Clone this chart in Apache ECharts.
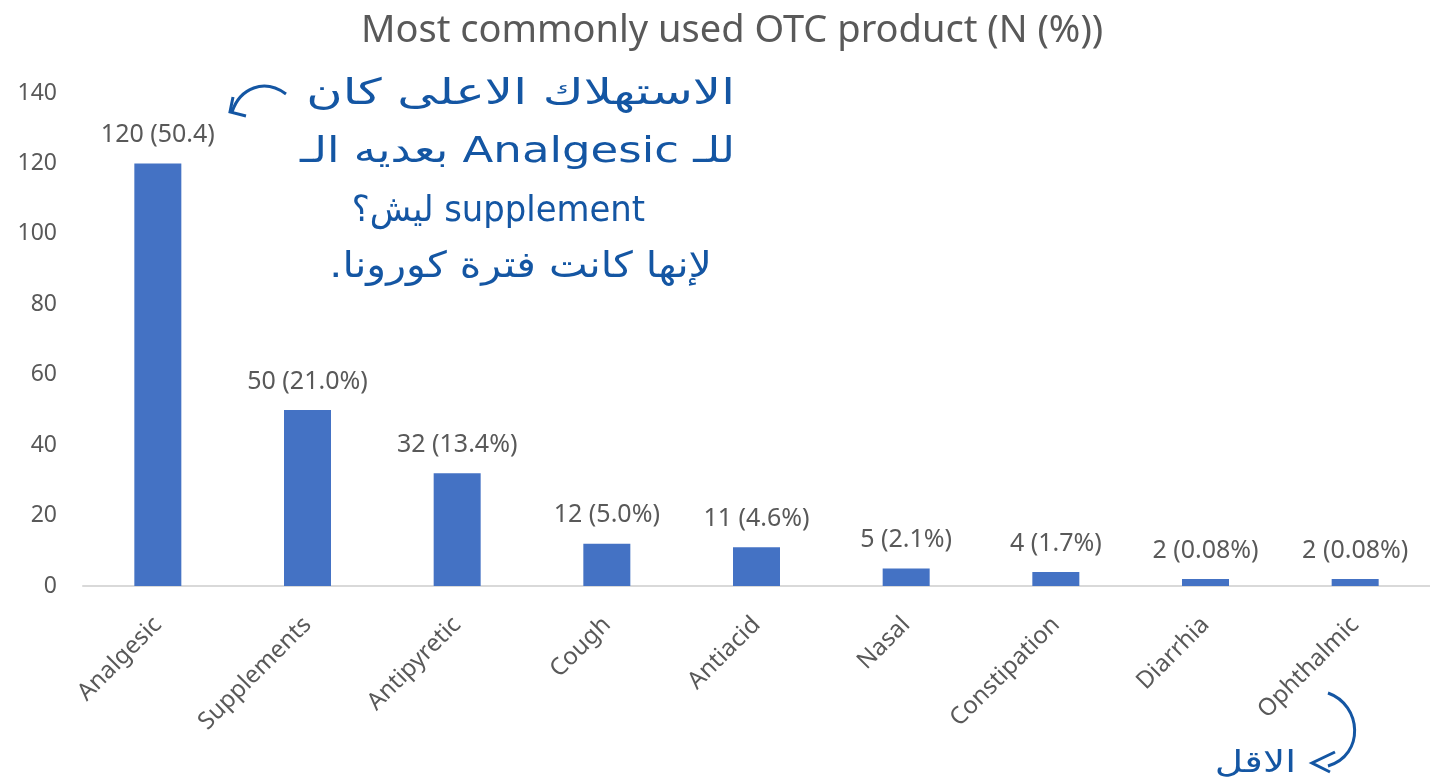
<!DOCTYPE html>
<html>
<head>
<meta charset="utf-8">
<script src="https://cdn.jsdelivr.net/npm/echarts@6/dist/echarts.min.js"></script>
<style>
  html, body { margin: 0; padding: 0; background: #fff; }
  #chart { width: 1430px; height: 782px; }
</style>
</head>
<body>
<div id="chart"></div>
<script>
  // data
  var categories = ['Analgesic', 'Supplements', 'Antipyretic', 'Cough', 'Antiacid', 'Nasal', 'Constipation', 'Diarrhia', 'Ophthalmic']
  var counts = [120, 50, 32, 12, 11, 5, 4, 2, 2]
  var percents = ['50.4', '21.0%', '13.4%', '5.0%', '4.6%', '2.1%', '1.7%', '0.08%', '0.08%']
  var yTicks = {min: 0, max: 140, interval: 20}

  // handwritten notes (RTL)
  var noteLines = [
    'الاستهلاك الاعلى كان',
    'للـ Analgesic بعديه الـ',
    'supplement ليش؟',
    'لإنها كانت فترة كورونا.'
  ]
  var lowNote = 'الاقل'

  var textColor = '#595959'
  var inkColor = '#1456a3'
  var font = 'Noto Sans'

  var chart = echarts.init(document.getElementById('chart'))

  var rtl = function (s) {
    return '\u202B' + s + '\u202C'
  }

  // right edge, middle y and horizontal stretch of each note line
  var noteX = [735, 735, 645, 712]
  var noteY = [95, 153, 212, 268]
  var noteScale = [1.38, 1.25, 0.94, 1.14]
  var notes = noteLines.map(function (line, i) {
    return {
      type: 'text',
      x: noteX[i],
      y: noteY[i],
      scaleX: noteScale[i],
      style: {
        text: rtl(line),
        fill: inkColor,
        font: '36px "DejaVu Sans"',
        align: 'right',
        verticalAlign: 'middle'
      }
    }
  })

  chart.setOption({
    title: {
      text: 'Most commonly used OTC product (N (%))',
      left: 356,
      top: 7,
      textStyle: {
        color: textColor,
        fontFamily: font,
        fontSize: 38,
        fontWeight: 'normal'
      }
    },
    grid: {
      left: 83,
      right: -3,
      top: 93,
      bottom: 196,
      containLabel: false
    },
    xAxis: {
      type: 'category',
      data: categories,
      axisLine: {lineStyle: {color: '#d9d9d9', width: 2}},
      axisTick: {show: false},
      axisLabel: {
        rotate: 45,
        margin: 35,
        color: textColor,
        fontFamily: font,
        fontSize: 24
      }
    },
    yAxis: {
      type: 'value',
      min: yTicks.min,
      max: yTicks.max,
      interval: yTicks.interval,
      splitLine: {show: false},
      axisLine: {show: false},
      axisTick: {show: false},
      axisLabel: {
        margin: 26,
        color: textColor,
        fontFamily: font,
        fontSize: 23
      }
    },
    series: [
      {
        type: 'bar',
        data: counts,
        barWidth: 47,
        itemStyle: {color: '#4472c4'},
        label: {
          show: true,
          position: 'top',
          distance: 16,
          color: textColor,
          fontFamily: font,
          fontSize: 25,
          formatter: function (p) {
            return p.value + ' (' + percents[p.dataIndex] + ')'
          }
        }
      }
    ],
    graphic: notes.concat([
      {
        type: 'bezierCurve',
        shape: {x1: 286, y1: 94, cpx1: 264, cpy1: 78, cpx2: 240, cpy2: 88, x2: 232, y2: 112},
        style: {stroke: inkColor, lineWidth: 3, fill: null}
      },
      {
        type: 'polyline',
        shape: {points: [[233, 97], [230, 112], [246, 116]]},
        style: {stroke: inkColor, lineWidth: 3, fill: null}
      },
      {
        type: 'bezierCurve',
        shape: {x1: 1328, y1: 693, cpx1: 1362, cpy1: 705, cpx2: 1365, cpy2: 755, x2: 1328, y2: 766},
        style: {stroke: inkColor, lineWidth: 3, fill: null}
      },
      {
        type: 'polyline',
        shape: {points: [[1335, 752], [1312, 763], [1330, 772]]},
        style: {stroke: inkColor, lineWidth: 3, fill: null}
      },
      {
        type: 'text',
        x: 1296,
        y: 764,
        scaleX: 1.3,
        style: {
          text: rtl(lowNote),
          fill: inkColor,
          font: '30px "DejaVu Sans"',
          align: 'right',
          verticalAlign: 'middle'
        }
      }
    ])
  })
</script>
</body>
</html>
